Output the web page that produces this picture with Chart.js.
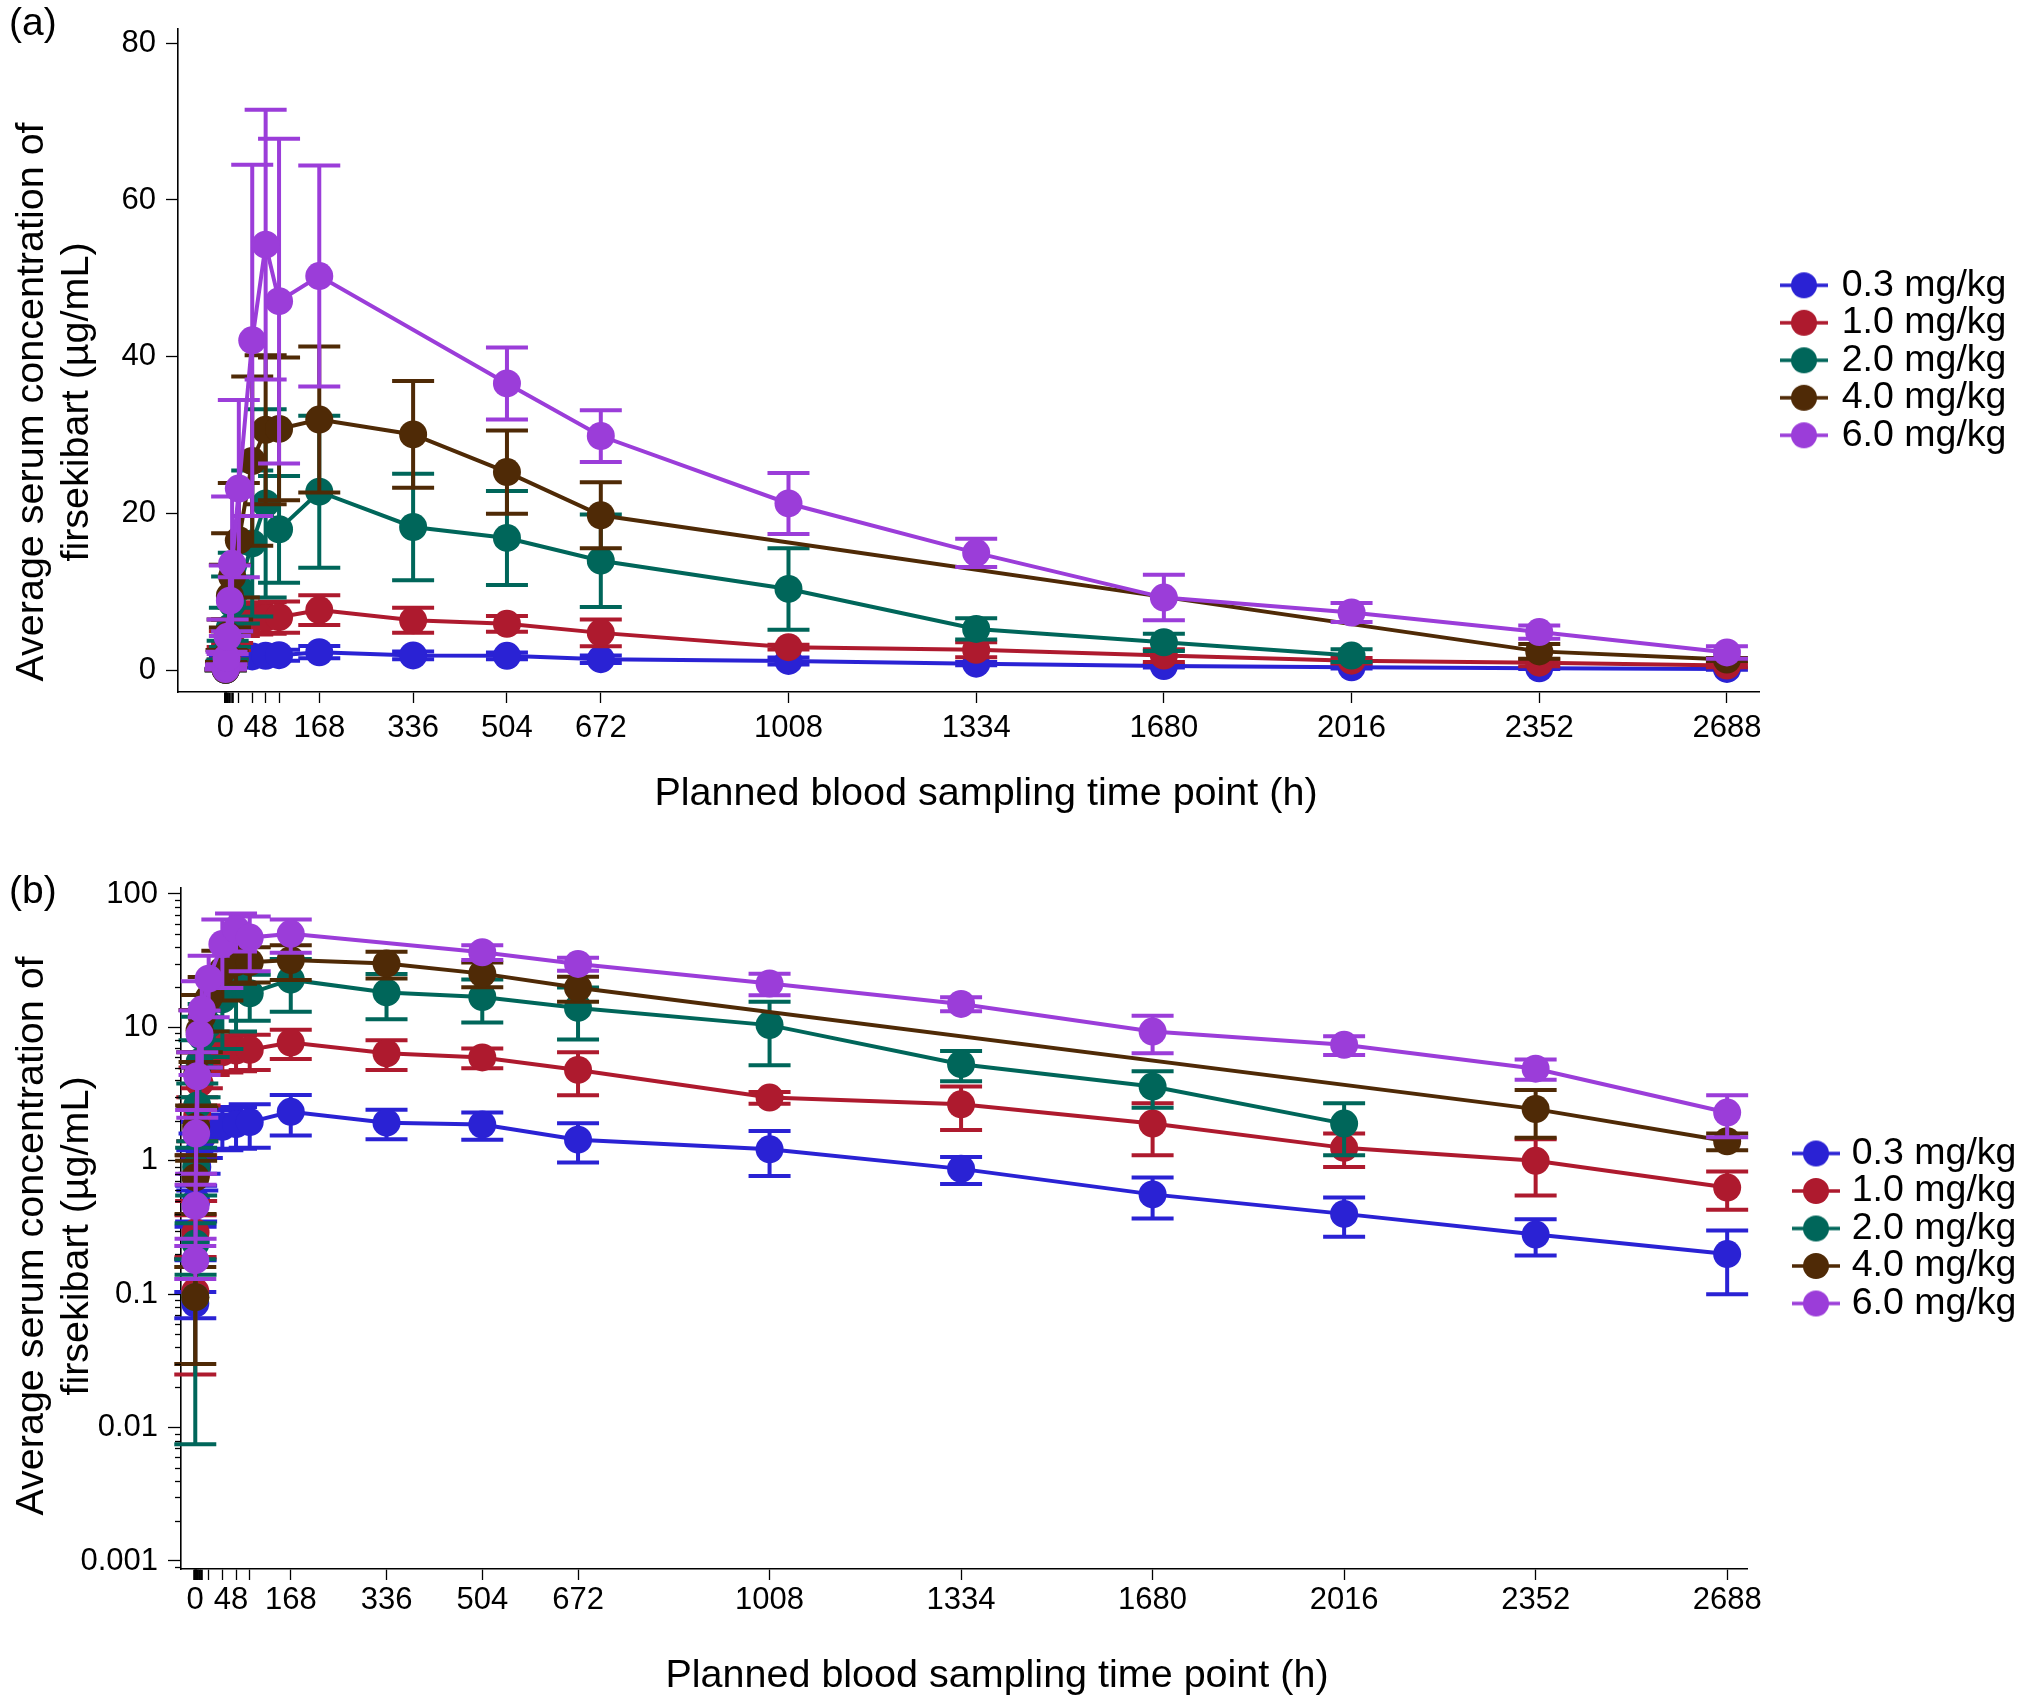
<!DOCTYPE html>
<html>
<head>
<meta charset="utf-8">
<script src="https://cdn.jsdelivr.net/npm/chart.js@4.4.1/dist/chart.umd.min.js"></script>
<style>
  html, body { margin: 0; padding: 0; background: #fff; }
  #wrap { position: relative; width: 2030px; height: 1700px; }
  canvas { position: absolute; left: 0; }
  #linChart { top: 0; width: 2030px; height: 840px; }
  #logChart { top: 840px; width: 2030px; height: 860px; }
</style>
</head>
<body>
<div id="wrap">
  <canvas id="linChart" width="2030" height="840"></canvas>
  <canvas id="logChart" width="2030" height="860"></canvas>
</div>
<script>
// planned sampling times (h)
const hours = [0.5, 1, 2, 4, 8, 12, 24, 48, 72, 96, 168, 336, 504, 672, 1008, 1344, 1680, 2016, 2352, 2688];
const doseLabels = ['0.3 mg/kg', '1.0 mg/kg', '2.0 mg/kg', '4.0 mg/kg', '6.0 mg/kg'];

// mean and SD, µg/mL
const mean03 = [0.085, 0.25, 0.5, 0.9, 1.2, 1.5, 1.72, 1.8, 1.88, 1.95, 2.33, 1.93, 1.87, 1.44, 1.22, 0.87, 0.56, 0.40, 0.28, 0.20];
const sd03 = [0.019, 0.07, 0.15, 0.3, 0.4, 0.45, 0.5, 0.6, 0.65, 0.7, 0.78, 0.48, 0.43, 0.47, 0.45, 0.2, 0.19, 0.13, 0.085, 0.1];
const mean10 = [0.105, 0.29, 0.8, 2.2, 3.8, 5.0, 6.2, 6.5, 6.7, 6.8, 7.7, 6.4, 5.95, 4.8, 2.98, 2.65, 1.9, 1.25, 1.0, 0.63];
const sd10 = [0.08, 0.1, 0.3, 0.8, 1.2, 1.5, 1.8, 1.9, 2.0, 2.0, 1.9, 1.6, 1.0, 1.7, 0.3, 0.95, 0.8, 0.35, 0.45, 0.2];
const mean20 = [0.095, 0.24, 0.9, 2.6, 5.5, 8.5, 10.5, 16.2, 21.3, 18.0, 22.8, 18.3, 16.9, 14.0, 10.4, 5.3, 3.6, 1.9, null, null];
const sd20 = [0.0875, 0.1, 0.35, 1.2, 2.5, 3.5, 4.5, 9.3, 12.0, 6.8, 9.7, 6.8, 6.0, 5.9, 5.2, 1.35, 1.1, 0.8, null, null];
const mean40 = [0.095, 0.75, 1.8, 4.5, 9.5, 12.0, 16.6, 26.7, 30.7, 30.8, 32.0, 30.1, 25.3, 19.8, null, null, null, null, 2.44, 1.4];
const sd40 = [0.065, 0.35, 0.8, 2.0, 4.0, 5.5, 7.3, 10.8, 9.5, 9.1, 9.3, 6.8, 5.3, 4.2, null, null, null, null, 0.95, 0.2];
const mean60 = [0.18, 0.46, 1.6, 4.3, 8.9, 13.6, 23.2, 42.1, 54.3, 47.1, 50.3, null, 36.6, 29.9, 21.3, 15.0, 9.3, 7.4, 4.9, 2.3];
const sd60 = [0.05, 0.2, 0.8, 2.2, 4.5, 8.6, 11.3, 22.4, 17.2, 20.7, 14.1, null, 4.6, 3.3, 3.9, 1.8, 2.9, 1.2, 0.85, 0.8];

const xTickValues = [0, 0.5, 1, 2, 4, 8, 12, 24, 48, 72, 96, 168, 336, 504, 672, 1008, 1344, 1680, 2016, 2352, 2688];
const xTickLabels = ['0', '', '', '', '', '', '', '', '  48', '', '', '168', '336', '504', '672', '1008', '1334', '1680', '2016', '2352', '2688'];
const linTicks = [0, 20, 40, 60, 80];
const logTicks = [0.001, 0.01, 0.1, 1, 10, 100];
const logTickLabels = ['0.001', '0.01', '0.1', '1', '10', '100'];

const means = [mean03, mean10, mean20, mean40, mean60];
const sds = [sd03, sd10, sd20, sd40, sd60];
const colors = ['#2a22d4', '#ae1a2e', '#00665a', '#4f2a06', '#9b3dd9'];

const FONT = '"Liberation Sans", Arial, sans-serif';
const LEGEND_SIZE = 37.5;
const TICK_SIZE = 31;
Chart.defaults.font.family = FONT;
Chart.defaults.color = '#000';

function legendIcon(color, width) {
  const c = document.createElement('canvas');
  c.width = width;
  c.height = 28;
  const g = c.getContext('2d');
  g.strokeStyle = color;
  g.lineWidth = 3.5;
  g.beginPath();
  g.moveTo(width - 48, 14);
  g.lineTo(width, 14);
  g.stroke();
  g.fillStyle = color;
  g.beginPath();
  g.arc(width - 24, 14, 13, 0, Math.PI * 2);
  g.fill();
  return c;
}

function buildSets() {
  return means.map((m, i) => ({
    label: doseLabels[i],
    data: hours.map((h, j) => (m[j] == null ? null : {x: h, y: m[j], sd: sds[i][j]})).filter(Boolean),
    borderColor: colors[i],
    backgroundColor: colors[i],
    borderWidth: 4,
    pointRadius: 14,
    pointBorderWidth: 0,
    pointBackgroundColor: colors[i],
    tension: 0,
    order: 5 - i
  }));
}

const errorBars = {
  id: 'errorBars',
  beforeDatasetDraw(chart, args) {
    const ds = chart.data.datasets[args.index];
    const xs = chart.scales.x;
    const ys = chart.scales.y;
    const ctx = chart.ctx;
    ctx.save();
    ctx.strokeStyle = ds.borderColor;
    ctx.lineWidth = 4;
    ds.data.forEach(p => {
      const px = xs.getPixelForValue(p.x);
      const hi = ys.getPixelForValue(p.y + p.sd);
      const lo = ys.getPixelForValue(Math.max(p.y - p.sd, ys.min));
      ctx.beginPath();
      ctx.moveTo(px, hi);
      ctx.lineTo(px, lo);
      ctx.moveTo(px - 21, hi);
      ctx.lineTo(px + 21, hi);
      ctx.moveTo(px - 21, lo);
      ctx.lineTo(px + 21, lo);
      ctx.stroke();
    });
    ctx.restore();
  }
};

const axisTitles = {
  id: 'axisTitles',
  afterDraw(chart, args, o) {
    const ctx = chart.ctx;
    ctx.save();
    ctx.fillStyle = '#000';
    ctx.textBaseline = 'alphabetic';
    ctx.textAlign = 'center';
    ctx.font = o.size + 'px ' + FONT;
    ctx.fillText(o.xText, o.xCenter, o.xBase);
    o.yLines.forEach((line, i) => {
      ctx.save();
      ctx.translate(o.yBase[i], o.yCenter);
      ctx.rotate(-Math.PI / 2);
      ctx.fillText(line, 0, 0);
      ctx.restore();
    });
    ctx.textAlign = 'left';
    ctx.font = '39px ' + FONT;
    ctx.fillText(o.panel, o.panelX, o.panelY);

    // minor ticks of the log axis
    const ys = chart.scales.y;
    if (ys.type === 'logarithmic') {
      ctx.strokeStyle = '#000';
      ctx.lineWidth = 1.3;
      for (let d = -4; d <= 2; d++) {
        for (let m = 2; m <= 9; m++) {
          const v = m * Math.pow(10, d);
          if (v < ys.min || v > ys.max) continue;
          const py = Math.round(ys.getPixelForValue(v)) + 0.5;
          ctx.beginPath();
          ctx.moveTo(ys.right - 6, py);
          ctx.lineTo(ys.right, py);
          ctx.stroke();
        }
      }
    }
    ctx.restore();
  }
};

function legendPadRight(chartRight, boxW) {
  const c = document.createElement('canvas').getContext('2d');
  c.font = LEGEND_SIZE + 'px ' + FONT;
  const w = Math.max(...doseLabels.map(t => c.measureText(t).width));
  return 2030 - chartRight - (10 + boxW + LEGEND_SIZE / 2 + w);
}

function makeChart(el, cfg) {
  const icons = colors.map(c => legendIcon(c, cfg.iconW));
  return new Chart(document.getElementById(el), {
    type: 'line',
    data: {datasets: buildSets()},
    plugins: [errorBars, axisTitles],
    options: {
      responsive: false,
      devicePixelRatio: 1,
      animation: false,
      events: [],
      layout: {padding: {top: cfg.top, left: 0, bottom: 0, right: legendPadRight(cfg.right, cfg.boxW)}},
      plugins: {
        tooltip: {enabled: false},
        legend: {
          position: 'right',
          align: 'center',
          fullSize: false,
          labels: {
            usePointStyle: true,
            pointStyleWidth: cfg.boxW,
            padding: 0,
            color: '#000',
            font: {size: LEGEND_SIZE},
            generateLabels: chart => chart.data.datasets.map((ds, i) => ({
              text: ds.label,
              pointStyle: icons[i],
              fillStyle: ds.borderColor,
              strokeStyle: ds.borderColor,
              lineWidth: 0,
              hidden: false,
              datasetIndex: i,
              fontColor: '#000'
            }))
          }
        },
        axisTitles: cfg.titles
      },
      scales: {
        x: {
          type: 'linear',
          min: cfg.xMin,
          max: cfg.xMax,
          afterBuildTicks: s => { s.ticks = xTickValues.map(v => ({value: v})); },
          afterFit: s => { s.height = cfg.xH; },
          ticks: {autoSkip: false, maxRotation: 0, minRotation: 0, padding: cfg.xPad, font: {size: TICK_SIZE}, color: '#000',
            callback: (v, i) => xTickLabels[i]},
          grid: {drawOnChartArea: false, tickLength: 11, tickColor: '#000',
            tickWidth: c => (c.tick && c.tick.value <= 12 ? 2.6 : 1.3)},
          border: {display: true, color: '#000', width: 1.6}
        },
        y: cfg.y
      }
    }
  });
}

makeChart('linChart', {
  top: 5, right: 1759, boxW: 64, iconW: 74, xMin: -84.9, xMax: 2745.4, xH: 148, xPad: 7,
  titles: {
    size: 39.5, xText: 'Planned blood sampling time point (h)', xCenter: 986, xBase: 805,
    yLines: ['Average serum concentration of', 'firsekibart (µg/mL)'], yBase: [43, 88], yCenter: 402,
    panel: '(a)', panelX: 9, panelY: 35
  },
  y: {
    type: 'linear',
    min: -2.74,
    max: 81.85,
    afterBuildTicks: s => { s.ticks = linTicks.map(v => ({value: v})); },
    afterFit: s => { s.width = 178; },
    ticks: {padding: 10, font: {size: TICK_SIZE}, color: '#000', callback: v => String(v)},
    grid: {drawOnChartArea: false, tickLength: 12, tickWidth: 1.3, tickColor: '#000'},
    border: {display: true, color: '#000', width: 1.6}
  }
});

makeChart('logChart', {
  top: 48, right: 1747, boxW: 86, iconW: 100, xMin: -24.56, xMax: 2722.8, xH: 131, xPad: 2,
  titles: {
    size: 39.5, xText: 'Planned blood sampling time point (h)', xCenter: 997, xBase: 847,
    yLines: ['Average serum concentration of', 'firsekibart (µg/mL)'], yBase: [43, 88], yCenter: 396,
    panel: '(b)', panelX: 9, panelY: 63
  },
  y: {
    type: 'logarithmic',
    min: 0.000871,
    max: 110.9,
    afterBuildTicks: s => { s.ticks = logTicks.map(v => ({value: v, major: true})); },
    afterFit: s => { s.width = 181; },
    ticks: {padding: 10, font: {size: TICK_SIZE}, color: '#000', callback: (v, i) => logTickLabels[i]},
    grid: {drawOnChartArea: false, tickLength: 13, tickWidth: 1.3, tickColor: '#000'},
    border: {display: true, color: '#000', width: 1.6}
  }
});
</script>
</body>
</html>
